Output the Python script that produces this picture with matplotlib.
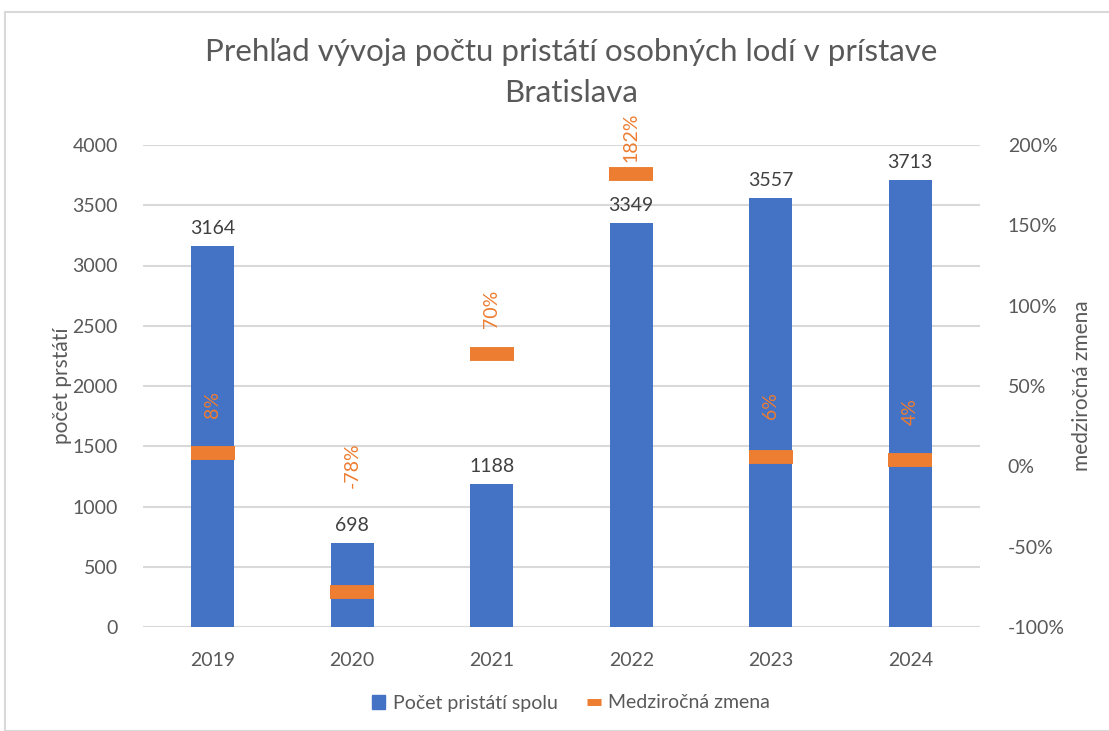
import matplotlib
matplotlib.use("Agg")
import numpy as np
from matplotlib import pyplot as plt
from matplotlib.patches import Patch, Rectangle
from matplotlib.lines import Line2D
from matplotlib.ticker import FuncFormatter

plt.rcParams['font.family'] = ['Lato', 'DejaVu Sans']

# data
years = ["2019", "2020", "2021", "2022", "2023", "2024"]
pristatia = [3164, 698, 1188, 3349, 3557, 3713]
zmena = [8, -78, 70, 182, 6, 4]  # medziročná zmena v %

# odsadenie popisov zmeny nad znackou (px)
zmena_label_offset = [35, 104, 26, 12, 38, 35]

BLUE = "#4472C4"
ORANGE = "#ED7D31"
GRID = "#D9D9D9"
TXT = "#595959"

fig = plt.figure(figsize=(11.09, 7.31), dpi=100)
# ramcek grafu
fig.patches.append(Rectangle((5 / 1109, 0.0), 1.0, 1 - 12 / 731, transform=fig.transFigure,
                             fill=False, edgecolor=GRID, linewidth=1.5))

ax = fig.add_axes([143 / 1109, 1 - 627 / 731, 837 / 1109, 482 / 731])
x = np.arange(len(years))

ax.bar(x, pristatia, width=0.31, color=BLUE, zorder=3)
ax.set_xlim(-0.5, len(years) - 0.5)
ax.set_ylim(0, 4000)
ax.set_yticks(np.arange(0, 4001, 500))
ax.yaxis.grid(True, color=GRID, linewidth=1.5, zorder=0)
ax.set_axisbelow(True)
for s in ax.spines.values():
    s.set_visible(False)
ax.tick_params(axis="both", length=0, labelsize=14, labelcolor=TXT)
ax.tick_params(axis="x", pad=18)
ax.tick_params(axis="y", pad=18)
ax.set_xticks(x)
ax.set_xticklabels(years)
ax.set_ylabel("počet prstátí", fontsize=15, color=TXT, labelpad=0)

for xi, v in zip(x, pristatia):
    ax.annotate(str(v), (xi, v), xytext=(0, 9), textcoords="offset pixels",
                ha="center", va="bottom", fontsize=14, color="#404040", zorder=5)

# sekundarna os - medzirocna zmena
ax2 = ax.twinx()
ax2.set_ylim(-100, 200)
ax2.set_yticks(np.arange(-100, 201, 50))
ax2.yaxis.set_major_formatter(FuncFormatter(lambda v, p: "{0:.0f}%".format(v)))
for s in ax2.spines.values():
    s.set_visible(False)
ax2.tick_params(axis="y", length=0, labelsize=14, labelcolor=TXT, pad=20)
ax2.set_ylabel("medziročná zmena", fontsize=15, color=TXT, rotation=90, labelpad=5)

ax2.plot(x, zmena, linestyle="none", marker="_", markersize=31, markeredgewidth=10,
         color=ORANGE, zorder=4)
for xi, v, off in zip(x, zmena, zmena_label_offset):
    ax2.annotate("{0}%".format(v), (xi, v), xytext=(0, off), textcoords="offset pixels",
                 ha="center", va="bottom", rotation=90, fontsize=14, color=ORANGE)

fig.text(571 / 1109, 1 - 52 / 731, "Prehľad vývoja počtu pristátí osobných lodí v prístave",
         ha="center", va="center", fontsize=22.5, color=TXT)
fig.text(571 / 1109, 1 - 93 / 731, "Bratislava",
         ha="center", va="center", fontsize=22.5, color=TXT)

handles = [Patch(facecolor=BLUE, edgecolor=BLUE),
           Line2D([0], [0], color=ORANGE, linewidth=5, solid_capstyle="butt")]
fig.legend(handles, ["Počet pristátí spolu", "Medziročná zmena"], loc="center",
           bbox_to_anchor=(571 / 1109, 1 - 703 / 731), ncol=2, frameon=False,
           fontsize=14, labelcolor=TXT, handlelength=0.7, handleheight=0.7,
           handletextpad=0.4, columnspacing=1.5)

fig.savefig("out.png", dpi=100)
